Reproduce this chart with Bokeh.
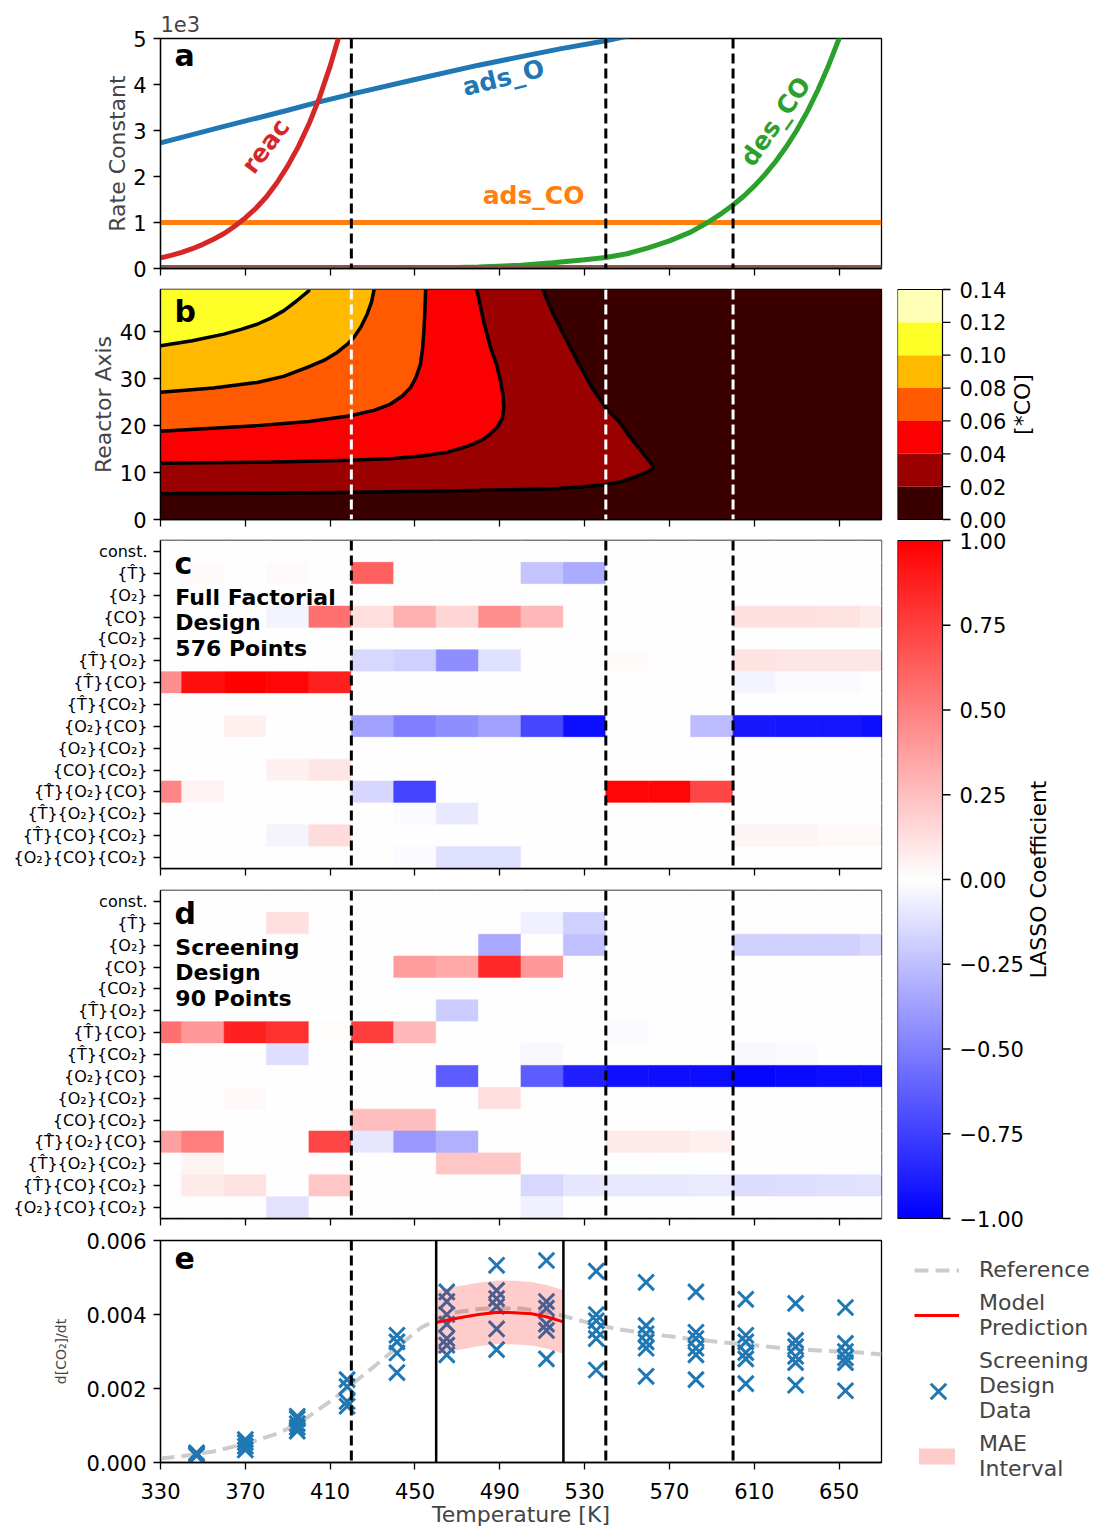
import numpy as np
from bokeh.plotting import figure
from bokeh.models import (Range1d, Span, Label, LinearColorMapper, Legend, LegendItem,
                          FixedTicker, CustomJSTickFormatter, ColumnDataSource, Spacer)
from bokeh.layouts import column, row
from bokeh.transform import linear_cmap
from bokeh.core.properties import value
from bokeh.embed import file_html
from bokeh.resources import INLINE

FONT = "DejaVu Sans"

# ---------------------------------------------------------------- data
T_MIN, T_MAX = 330, 670
x_ticks = [330, 370, 410, 450, 490, 530, 570, 610, 650]
regime_T = [420, 540, 600]
window_T = [460, 520]

# panel a : rate constants
T_ads_O = [330, 360, 390, 403, 420, 450, 480, 519, 540, 560]
k_ads_O = [2730, 3090, 3440, 3600, 3790, 4110, 4420, 4780, 4950, 5150]
T_ads_CO = [330, 670]
k_ads_CO = [1000, 1000]
T_des_CO = [440, 460, 480, 500, 515, 530, 540, 550, 560, 570, 580, 588, 595, 600, 605, 610,
            615, 620, 625, 630, 635, 640, 645, 650, 655, 660]
k_des_CO = [5, 12, 30, 70, 125, 190, 240, 320, 450, 600, 790, 1000, 1210, 1380, 1570, 1790,
            2040, 2320, 2640, 3000, 3410, 3880, 4410, 5000, 5680, 6400]
T_reac = [330, 335, 340, 345, 350, 355, 360, 365, 370, 375, 380, 385, 390, 395, 400, 405,
          410, 415, 420]
k_reac = [230, 285, 350, 430, 525, 635, 760, 920, 1100, 1310, 1560, 1870, 2230, 2650, 3140,
          3720, 4400, 5180, 6100]
T_other = [330, 670]
k_other1 = [30, 30]
k_other2 = [30, 30]

# panel b : [*CO] contour lines
Z_TOP = 49
co_levels = [0.0, 0.02, 0.04, 0.06, 0.08, 0.10, 0.12, 0.14]
c02_T = [330, 380, 420, 470, 514, 530, 539, 547, 553.5, 558, 561, 562.5, 561.5, 559, 556,
         551.6, 546, 540.3, 533, 527.4, 519.2, 514.5, 510.6, 510.2]
c02_z = [5.5, 5.6, 5.8, 6.1, 6.5, 7.0, 7.4, 8.0, 9.0, 9.8, 10.5, 11.1, 11.9, 13.3, 15.0,
         17.5, 21.0, 23.6, 28.5, 33.1, 40.2, 44.5, 48.7, 49]
c04_T = [330, 380, 419.6, 440, 454.2, 465, 472, 477.7, 482, 485, 488.7, 491.2, 491.9, 491.5,
         490.3, 488.5, 485.6, 482.5, 479.3, 479.2]
c04_z = [12.0, 12.2, 12.6, 13.0, 13.6, 14.3, 15.2, 16.1, 17.0, 18.0, 19.6, 21.5, 23.9, 26.5,
         29.6, 33.0, 36.7, 42.0, 48.7, 49]
c06_T = [330, 375.6, 400, 419.6, 431, 438.5, 444, 447.9, 450.5, 452.6, 453.6, 454.2, 454.7,
         455.0, 455.0]
c06_z = [18.8, 20.0, 20.9, 22.1, 23.3, 24.6, 26.3, 28.1, 30.3, 33.1, 36.5, 40.2, 44.5, 48.7, 49]
c08_T = [330, 355, 375.6, 388, 399.2, 407, 413.3, 418, 421.2, 424.5, 427.5, 429.5, 430.6, 430.7]
c08_z = [27.1, 28.0, 29.2, 30.5, 32.4, 33.9, 35.6, 37.3, 38.8, 41.0, 43.8, 46.3, 48.7, 49]
c10_T = [330, 345, 359.9, 368, 375.6, 382, 388.2, 394, 399.9, 400.0]
c10_z = [37.0, 38.1, 39.5, 40.5, 41.6, 42.9, 44.5, 46.5, 48.7, 49]

# panels c, d : LASSO coefficients
term_labels = ["const.", "{T\u0302}", "{O\u2082}", "{CO}", "{CO\u2082}",
               "{T\u0302}{O\u2082}", "{T\u0302}{CO}", "{T\u0302}{CO\u2082}", "{O\u2082}{CO}",
               "{O\u2082}{CO\u2082}", "{CO}{CO\u2082}", "{T\u0302}{O\u2082}{CO}",
               "{T\u0302}{O\u2082}{CO\u2082}", "{T\u0302}{CO}{CO\u2082}", "{O\u2082}{CO}{CO\u2082}"]
T_cells = [330, 350, 370, 390, 410, 430, 450, 470, 490, 510, 530, 550, 570, 590, 610, 630, 650, 670]
coef_full = [
    [0, 0, 0, 0, 0, 0, 0, 0, 0, 0, 0, 0, 0, 0, 0, 0, 0, 0],
    [0, 0.02, 0, 0.02, 0, 0.62, 0, 0, 0, -0.23, -0.33, 0, 0, 0, 0, 0, 0, 0],
    [0, 0, 0, 0, 0, 0, 0, 0, 0, 0, 0, 0, 0, 0, 0, 0, 0, 0],
    [0, 0, 0, -0.04, 0.56, 0.13, 0.31, 0.16, 0.44, 0.28, 0, 0, 0, 0, 0.12, 0.12, 0.11, 0.08],
    [0, 0, 0, 0, 0, 0, 0, 0, 0, 0, 0, 0, 0, 0, 0, 0, 0, 0],
    [0, 0, 0, 0, 0, -0.15, -0.18, -0.44, -0.12, 0, 0, 0.02, 0, 0, 0.11, 0.10, 0.10, 0.10],
    [0.44, 0.94, 1.0, 0.97, 0.87, 0, 0, 0, 0, 0, 0, 0, 0, 0, -0.04, -0.02, -0.02, 0],
    [0, 0, 0, 0, 0.01, 0, 0, 0, 0, 0, 0, 0, 0, 0, 0, 0, 0, 0],
    [0, 0, 0.06, 0, 0, -0.37, -0.50, -0.44, -0.37, -0.72, -0.94, 0, 0, -0.26, -0.90, -0.92, -0.92, -0.94],
    [0, 0, 0, 0, 0, 0, 0, 0, 0, 0, 0, 0, 0, 0, 0, 0, 0, 0],
    [0, 0, 0, 0.06, 0.10, 0, 0, 0, 0, 0, 0, 0, 0, 0, 0, 0, 0, 0],
    [0.47, 0.05, 0, 0, 0, -0.16, -0.73, 0, 0, 0, 0, 0.97, 0.97, 0.72, 0, 0, 0, 0],
    [0, 0, 0, 0, 0, 0, -0.02, -0.09, 0, 0, 0, 0, 0, 0, 0, 0, 0, 0],
    [0, 0, 0, -0.04, 0.14, 0, 0, 0, 0, 0, 0, 0, 0, 0, 0.04, 0.04, 0.03, 0.03],
    [0, 0, 0, 0, 0, 0, -0.02, -0.12, -0.12, 0, 0, 0, 0, 0, 0, 0, 0, 0],
]
coef_screen = [
    [0, 0, 0, 0, 0, 0, 0, 0, 0, 0, 0, 0, 0, 0, 0, 0, 0, 0],
    [0, 0, 0, 0.13, 0, 0, 0, 0, 0, -0.06, -0.18, 0, 0, 0, 0, 0, 0, 0],
    [0, 0, 0, 0, 0, 0, 0, 0, -0.34, 0, -0.25, 0, 0, 0, -0.18, -0.18, -0.18, -0.15],
    [0, 0, 0, 0, 0, 0, 0.39, 0.34, 0.84, 0.40, 0, 0, 0, 0, 0, 0, 0, 0],
    [0, 0, 0, 0, 0, 0, 0, 0, 0, 0, 0, 0, 0, 0, 0, 0, 0, 0],
    [0, 0, 0, 0, 0, 0, 0, -0.20, 0, 0, 0, 0, 0, 0, 0, 0, 0, 0],
    [0.56, 0.40, 0.87, 0.81, 0.01, 0.75, 0.28, 0, 0, 0, 0, -0.02, 0, 0, 0, 0, 0, 0],
    [0, 0, 0, -0.13, 0, 0, 0, 0, 0, -0.03, 0, 0, 0, 0, -0.03, -0.02, 0, 0],
    [0, 0, 0, 0, 0, 0, 0, -0.64, 0, -0.64, -0.87, -0.93, -0.94, -0.95, -0.97, -0.96, -0.95, -0.95],
    [0, 0, 0.03, 0, 0, 0, 0, 0, 0.13, 0, 0, 0, 0, 0, 0, 0, 0, 0],
    [0, 0, 0, 0, 0, 0.25, 0.25, 0, 0, 0, 0, 0, 0, 0, 0, 0, 0, 0],
    [0.37, 0.50, 0, 0, 0.72, -0.10, -0.40, -0.31, 0, 0, 0, 0.08, 0.08, 0.06, 0, 0, 0, 0],
    [0, 0.04, 0, 0, 0, 0, 0, 0.22, 0.22, 0, 0, 0, 0, 0, 0, 0, 0, 0],
    [0.01, 0.08, 0.11, 0, 0.22, 0, 0, 0, 0, -0.15, -0.10, -0.09, -0.09, -0.08, -0.14, -0.13, -0.12, -0.11],
    [0, 0, 0, -0.11, 0, 0, 0, 0, 0, -0.06, 0, 0, 0, 0, 0, 0, 0, 0],
]
lasso_ticks = [-1, -0.75, -0.5, -0.25, 0, 0.25, 0.5, 0.75, 1]

# panel e : CO2 production rate
T_ref = [330, 340, 355, 371, 385, 395, 410, 420, 430, 442, 453, 467, 480, 489, 500, 510,
         520, 533, 545, 560, 580, 600, 620, 640, 660, 670]
rate_ref = [0.00011, 0.00017, 0.00030, 0.00052, 0.00078, 0.00105, 0.00165, 0.00210, 0.00256,
            0.00313, 0.00365, 0.00404, 0.00415, 0.00417, 0.00416, 0.00408, 0.00396, 0.00376,
            0.00361, 0.00348, 0.00334, 0.00322, 0.00311, 0.00303, 0.00297, 0.00292]
T_pred = [460, 466, 473, 480, 489, 497, 505, 512, 520]
rate_pred = [0.00378, 0.00386, 0.00393, 0.00400, 0.00406, 0.00405, 0.00402, 0.00394, 0.00380]
mae = 0.00086
design_T = ([347] * 3 + [370] * 4 + [394.5] * 5 + [418] * 4 + [441.5] * 4 + [465] * 7 +
            [488.5] * 6 + [512] * 6 + [535.5] * 6 + [559] * 6 + [582.5] * 6 + [606] * 6 +
            [629.5] * 6 + [653] * 6)
design_rate = [0.00018, 0.00022, 0.00026,
               0.00034, 0.00044, 0.00054, 0.00062,
               0.00085, 0.00095, 0.00105, 0.00118, 0.00125,
               0.00152, 0.00165, 0.00205, 0.00224,
               0.00243, 0.00296, 0.00326, 0.00344,
               0.00291, 0.00317, 0.00335, 0.00374, 0.00400, 0.00435, 0.00461,
               0.00305, 0.00361, 0.00422, 0.00443, 0.00465, 0.00533,
               0.00280, 0.00357, 0.00374, 0.00417, 0.00435, 0.00546,
               0.00250, 0.00335, 0.00357, 0.00383, 0.00400, 0.00517,
               0.00233, 0.00309, 0.00326, 0.00348, 0.00370, 0.00487,
               0.00224, 0.00291, 0.00309, 0.00335, 0.00352, 0.00461,
               0.00213, 0.00280, 0.00297, 0.00326, 0.00344, 0.00441,
               0.00209, 0.00270, 0.00287, 0.00313, 0.00330, 0.00430,
               0.00194, 0.00270, 0.00283, 0.00300, 0.00322, 0.00419]

# ---------------------------------------------------------------- styling helpers
hot_colors = ["#3a0000", "#9a0000", "#fa0000", "#ff5a00", "#ffba00", "#ffff28", "#ffffb8"]
bwr = []
for i in range(256):
    t = i / 255.0
    if t < 0.5:
        c = int(round(2 * t * 255))
        bwr.append("#%02x%02x%02x" % (c, c, 255))
    else:
        c = int(round(2 * (1 - t) * 255))
        bwr.append("#%02x%02x%02x" % (255, c, c))
mapper = LinearColorMapper(palette=bwr, low=-1, high=1)

LEFT = 160
PW = 897  # width of the panel column
RW = 199  # width of the right column


def style_axes(p, tick_size="21px"):
    for ax in p.axis:
        ax.major_tick_out = 7
        ax.major_tick_in = 0
        ax.minor_tick_line_color = None
        ax.major_tick_line_width = 1.3
        ax.axis_line_width = 1.3
        ax.major_label_text_font = FONT
        ax.major_label_text_font_size = tick_size
        ax.major_label_text_color = "black"
        ax.axis_label_text_font = FONT
        ax.axis_label_text_font_size = "22px"
        ax.axis_label_text_font_style = "normal"
        ax.major_label_standoff = 7


def make_fig(h, t, b, y_range):
    p = figure(width=PW, height=h, x_range=Range1d(T_MIN, T_MAX), y_range=y_range,
               output_backend="svg", toolbar_location=None, tools="",
               min_border_left=LEFT, min_border_right=16, min_border_top=t, min_border_bottom=b)
    p.xgrid.visible = False
    p.ygrid.visible = False
    p.outline_line_color = "black"
    p.outline_line_width = 1.3
    p.outline_line_alpha = 1.0
    p.background_fill_color = "white"
    p.border_fill_color = "white"
    style_axes(p)
    p.xaxis.ticker = FixedTicker(ticks=x_ticks)
    return p


def hide_x_labels(p):
    p.xaxis.major_label_text_color = None
    p.xaxis.major_label_standoff = 0


def vlines(p, color="black", dash="10 5", width=3, locs=regime_T):
    for loc in locs:
        p.add_layout(Span(location=loc, dimension="height", line_color=color,
                          line_width=width, line_dash=dash))


def txt(p, x, y, text, size="22px", bold=True, color="black", angle=0, align="left"):
    p.add_layout(Label(x=x, y=y, text=text, text_font=FONT, text_font_size=size,
                       text_font_style="bold" if bold else "normal", text_color=color,
                       angle=angle, text_align=align, text_baseline="middle"))


def bare_fig(w, h, x_range, y_range):
    f = figure(width=w, height=h, x_range=x_range, y_range=y_range, output_backend="svg",
               toolbar_location=None, tools="", x_axis_location=None, y_axis_location=None,
               min_border_left=0, min_border_right=0, min_border_top=0, min_border_bottom=0)
    f.grid.visible = False
    f.outline_line_color = None
    f.background_fill_color = "white"
    f.border_fill_color = "white"
    return f


# ---------------------------------------------------------------- panel a
pa = make_fig(281, 38, 13, Range1d(0, 5000))
hide_x_labels(pa)
pa.title.text = "1e3"
pa.title.align = "left"
pa.title.text_font = FONT
pa.title.text_font_size = "21px"
pa.title.text_font_style = "normal"
pa.title.standoff = 13
pa.title.offset = 0
pa.yaxis.ticker = FixedTicker(ticks=[0, 1000, 2000, 3000, 4000, 5000])
pa.yaxis.formatter = CustomJSTickFormatter(code="return (tick/1000).toFixed(0);")
pa.yaxis.axis_label = "Rate Constant"
pa.yaxis.axis_label_standoff = 0
pa.line(T_ads_O, k_ads_O, line_width=5, line_color="#1f77b4")
pa.line(T_ads_CO, k_ads_CO, line_width=5, line_color="#ff7f0e")
pa.line(T_des_CO, k_des_CO, line_width=5, line_color="#2ca02c")
pa.line(T_reac, k_reac, line_width=5, line_color="#d62728")
pa.line(T_other, k_other1, line_width=4, line_color="#9467bd")
pa.line(T_other, k_other2, line_width=4, line_color="#8c564b")
vlines(pa)
txt(pa, 336.6, 4620, "a", size="30px")
txt(pa, 379.5, 2660, "reac", size="25px", color="#d62728", angle=np.radians(53), align="center")
txt(pa, 491.7, 4146, "ads_O", size="25px", color="#1f77b4", angle=np.radians(14), align="center")
txt(pa, 505.9, 1597, "ads_CO", size="25px", color="#ff7f0e", align="center")
txt(pa, 620, 3200, "des_CO", size="25px", color="#2ca02c", angle=np.radians(55), align="center")

# ---------------------------------------------------------------- panel b
pb = make_fig(250, 8, 12, Range1d(0, Z_TOP))
hide_x_labels(pb)
pb.yaxis.ticker = FixedTicker(ticks=[0, 10, 20, 30, 40])
pb.yaxis.axis_label = "Reactor Axis"
pb.yaxis.axis_label_standoff = 1
pb.quad(left=[T_MIN], right=[T_MAX], bottom=[0], top=[Z_TOP], fill_color=hot_colors[0],
        line_color=None)
contours = [(c02_T, c02_z), (c04_T, c04_z), (c06_T, c06_z), (c08_T, c08_z), (c10_T, c10_z)]
for i, (cT, cz) in enumerate(contours):
    pb.patch(cT + [T_MIN], cz + [Z_TOP], fill_color=hot_colors[i + 1], line_color=None)
for cT, cz in contours:
    pb.line(cT, cz, line_color="black", line_width=3.5)
vlines(pb, color="white")
txt(pb, 336.6, 44.27, "b", size="30px")


# ---------------------------------------------------------------- panels c, d
def heat_panel(coef, top_border, bottom_border, letter, lines):
    p = make_fig(top_border + 328 + bottom_border, top_border, bottom_border, Range1d(-0.5, 14.5))
    hide_x_labels(p)
    n = len(coef)
    p.yaxis.ticker = FixedTicker(ticks=list(range(n)))
    p.yaxis.major_label_overrides = {n - 1 - i: lab for i, lab in enumerate(term_labels)}
    p.yaxis.major_label_text_font_size = "16px"
    p.yaxis.major_label_standoff = 6
    xs, ys, vs = [], [], []
    for i, vals in enumerate(coef):
        for j, v in enumerate(vals):
            xs.append(T_cells[j])
            ys.append(n - 1 - i)
            vs.append(v)
    src = ColumnDataSource(dict(x=xs, y=ys, v=vs))
    cm = linear_cmap("v", bwr, -1, 1)
    p.rect("x", "y", width=20, height=1, source=src, fill_color=cm, line_color=cm, line_width=0.6)
    vlines(p)
    txt(p, 336.6, 13.46, letter, size="30px")
    for k, s in enumerate(lines):
        txt(p, 337.0, [11.88, 10.74, 9.56][k], s, size="22px")
    return p


pc = heat_panel(coef_full, 9, 11, "c", ["Full Factorial", "Design", "576 Points"])
pd = heat_panel(coef_screen, 11, 10, "d", ["Screening", "Design", "90 Points"])

# ---------------------------------------------------------------- panel e
pe = make_fig(301, 12, 59, Range1d(0, 0.006))
pe.xaxis.major_label_standoff = 13
pe.xaxis.axis_label = "Temperature [K]"
pe.xaxis.axis_label_standoff = 0
pe.yaxis.ticker = FixedTicker(ticks=[0, 0.002, 0.004, 0.006])
pe.yaxis.formatter = CustomJSTickFormatter(code="return tick.toFixed(3);")
pe.yaxis.axis_label = "d[CO\u2082]/dt"
pe.yaxis.axis_label_text_font_size = "14px"
pe.yaxis.axis_label_standoff = 14
ref_style = dict(line_color="#cccccc", line_width=4, line_dash="14 7")
sc_style = dict(marker="x", size=22, line_width=3, line_color="#1f77b4")
band_style = dict(fill_color="red", fill_alpha=0.2)
pred_style = dict(line_color="red", line_width=3)
pe.line(T_ref, rate_ref, **ref_style)
pe.scatter(design_T, design_rate, **sc_style)
lower = [v - mae for v in rate_pred]
upper = [v + mae for v in rate_pred]
pe.varea(x=T_pred, y1=lower, y2=upper, **band_style)
pe.line(T_pred, rate_pred, **pred_style)
vlines(pe)
vlines(pe, dash="solid", width=2.5, locs=window_T)
txt(pe, 336.6, 0.005536, "e", size="30px")

# ---------------------------------------------------------------- right column: colour bars
# one figure in page-pixel units (y = -page_y) holding both colour bars, so no label is cut
CB_TOP, CB_BOT = 276, 1240
cbf = bare_fig(RW, CB_BOT - CB_TOP, Range1d(0, RW), Range1d(-CB_BOT, -CB_TOP))


def ypix(v, vmin, vmax, top_px, bot_px):
    return -(bot_px - (v - vmin) / (vmax - vmin) * (bot_px - top_px))


def bar_axis(ticks, texts, vmin, vmax, top_px, bot_px, title, title_x):
    ys = [ypix(v, vmin, vmax, top_px, bot_px) for v in ticks]
    cbf.quad(left=[0], right=[45], bottom=[-bot_px], top=[-top_px], fill_color=None,
             line_color="black", line_width=1.2)
    cbf.segment(x0=45, x1=53, y0=ys, y1=ys, line_color="black", line_width=1.3)
    cbf.text(x=[62] * len(ys), y=ys, text=texts, text_font=value(FONT), text_font_size="21px",
             text_align="left", text_baseline="middle", text_color="black")
    cbf.text(x=[title_x], y=[ypix((vmin + vmax) / 2, vmin, vmax, top_px, bot_px)], text=[title],
             text_font=value(FONT), text_font_size="22px", text_align="center",
             text_baseline="middle", angle=np.pi / 2, text_color="black")


yb = [ypix(v, co_levels[0], co_levels[-1], 289, 519) for v in co_levels]
cbf.quad(left=0, right=45, bottom=yb[:-1], top=yb[1:], fill_color=hot_colors, line_color=None)
bar_axis(co_levels, ["%.2f" % v for v in co_levels], co_levels[0], co_levels[-1], 289, 519,
         "[*CO]", 125)

grad = np.linspace(-1, 1, 256).reshape(256, 1)
cbf.image(image=[grad], x=0, y=-1218, dw=45, dh=1218 - 540, color_mapper=mapper)
lasso_text = [("\u2212" if v < 0 else "") + "%.2f" % abs(v) for v in lasso_ticks]
bar_axis(lasso_ticks, lasso_text, -1, 1, 540, 1218, "LASSO Coefficient", 141)

# ---------------------------------------------------------------- legend panel
# frame in page pixels from (897, 1240): x = page_x - 897, y = -(page_y - 1240)
LEG_H = 1529 - CB_BOT
leg = bare_fig(RW, LEG_H, Range1d(0, RW), Range1d(-LEG_H, 0))
l_ref = leg.line([-20, -19], [-400, -400], **ref_style)
l_pred = leg.line([-20, -19], [-400, -400], **pred_style)
l_sc = leg.scatter([-20], [-400], marker="x", size=22, line_alpha=0)
l_band = leg.varea(x=[-20, -19], y1=[-400, -400], y2=[-399, -399], **band_style)
leg.scatter([41], [-151], **sc_style)  # full-size marker for the design-data entry
legend = Legend(items=[LegendItem(label="Reference", renderers=[l_ref]),
                       LegendItem(label="Model\nPrediction", renderers=[l_pred]),
                       LegendItem(label="Screening\nDesign\nData", renderers=[l_sc]),
                       LegendItem(label="MAE\nInterval", renderers=[l_band])],
                location="top_left")
legend.label_text_font = FONT
legend.label_text_font_size = "22px"
legend.label_text_line_height = 1.12
legend.glyph_width = 45
legend.glyph_height = 20
legend.label_standoff = 20
legend.spacing = 8
legend.padding = 0
legend.margin = 17
legend.border_line_color = None
legend.background_fill_alpha = 0
leg.add_layout(legend)

layout = row(column(pa, pb, pc, pd, pe),
             column(Spacer(width=RW, height=CB_TOP), cbf, leg))
open("out.html", "w").write(file_html(layout, INLINE, "chart"))
